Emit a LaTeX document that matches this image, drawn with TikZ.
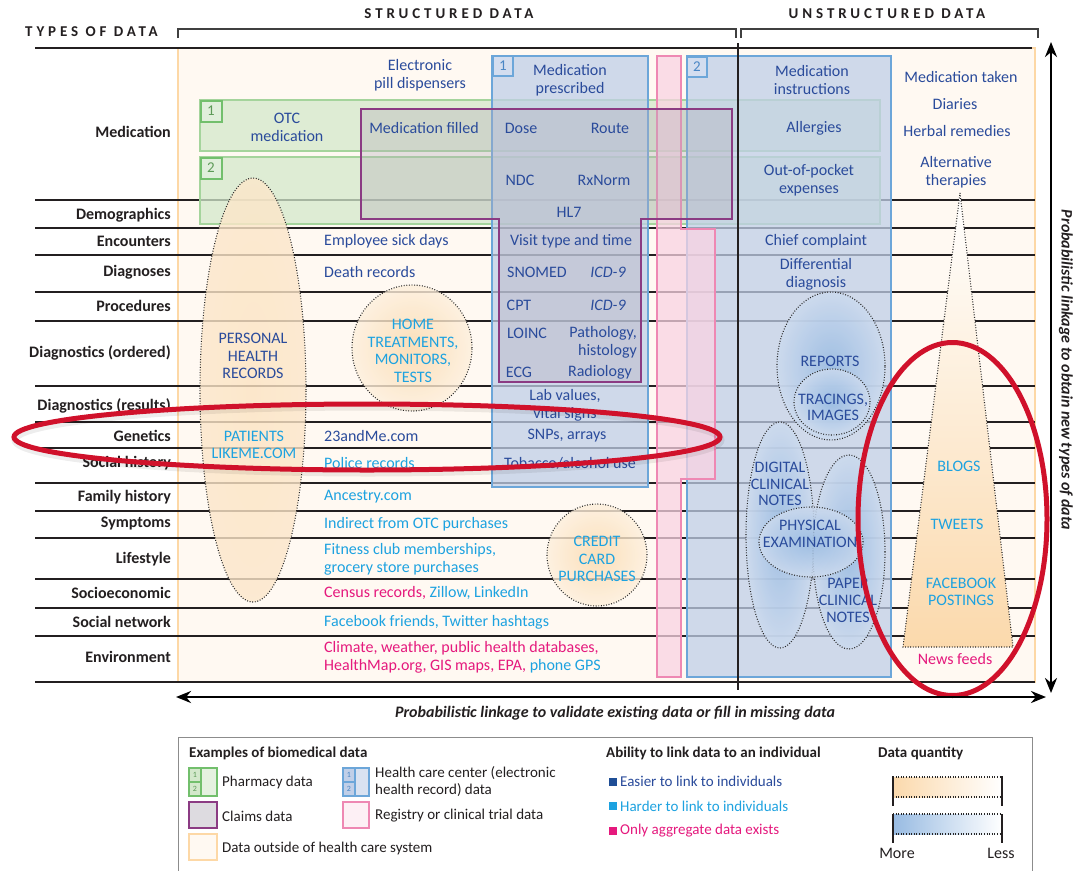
\documentclass[tikz,border=0pt]{standalone}
\usepackage{fontspec}
\setmainfont{Carlito}
\newfontfamily\spacedfont[LetterSpace=26]{Carlito}
\usetikzlibrary{arrows.meta}
\definecolor{labc}{HTML}{231F20}
\definecolor{dblue}{HTML}{2A4B9B}
\definecolor{lblue}{HTML}{1DA2E0}
\definecolor{mag}{HTML}{E5197D}
\definecolor{orfill}{HTML}{FFF9F2}
\definecolor{orline}{HTML}{FDD8A6}
\definecolor{grfill}{HTML}{D3E8CB}
\definecolor{grline}{HTML}{A5D49C}
\definecolor{grdark}{HTML}{72BF6C}
\definecolor{grnum}{HTML}{5C9A57}
\definecolor{blfill}{HTML}{C0CFE8}
\definecolor{blline}{HTML}{6CA6D9}
\definecolor{blnum}{HTML}{4A86C5}
\definecolor{pkfill}{HTML}{F9D3E2}
\definecolor{pkline}{HTML}{EE88B3}
\definecolor{pufill}{HTML}{B4AEBA}
\definecolor{puline}{HTML}{8B3B83}
\definecolor{redc}{HTML}{D0112B}
\definecolor{orin}{HTML}{FBD9AC}
\definecolor{orout}{HTML}{FDEFDC}
\definecolor{orsoft}{HTML}{FCE3C2}
\definecolor{blin}{HTML}{98BBE2}
\definecolor{blout}{HTML}{CCDAEE}
\definecolor{sqdark}{HTML}{1F4E96}
\begin{document}
\begin{tikzpicture}[x=1pt,y=-1pt,
  rowlab/.style={anchor=east,text=labc,font=\bfseries\fontsize{16}{18}\selectfont,inner sep=0pt},
  txt/.style={font=\fontsize{16}{18}\selectfont,inner sep=0pt,align=center},
  dt/.style={txt,text=dblue},
  lt/.style={txt,text=lblue},
  mt/.style={txt,text=mag},
  capd/.style={font=\fontsize{16}{17.5}\selectfont,inner sep=0pt,align=center,text=dblue},
  capl/.style={font=\fontsize{16}{17.5}\selectfont,inner sep=0pt,align=center,text=lblue},
  leg/.style={font=\fontsize{15}{17}\selectfont,inner sep=0pt,anchor=west,text=labc,align=left},
  legh/.style={font=\bfseries\fontsize{15}{17}\selectfont,inner sep=0pt,anchor=west,text=labc},
  hdr/.style={font=\spacedfont\bfseries\fontsize{15}{17}\selectfont,inner sep=0pt,text=labc},
  rowline/.style={draw=labc,line width=1.6pt},
  greenbox/.style={draw=grline,line width=2pt,fill=grfill,fill opacity=0.75},
  bluebox/.style={draw=blline,line width=2pt,fill=blfill,fill opacity=0.75},
  pinkbox/.style={draw=pkline,line width=2pt,fill=pkfill,fill opacity=0.75},
  claimbox/.style={draw=puline,line width=2.5pt,fill=pufill,fill opacity=0.35},
  dotl/.style={draw=black!85,line width=1.1pt,dash pattern=on 0.9pt off 1.7pt},
  orell/.style={dotl,inner color=orin,outer color=orout,fill opacity=0.8},
  blell/.style={dotl,inner color=blin,outer color=blout,fill opacity=0.85},
  redring/.style={draw=redc,line width=5pt},
  gnum/.style={draw=grdark,line width=2pt,fill=grfill!70!white,minimum size=21pt,inner sep=0pt,text=grnum,font=\fontsize{15}{15}\selectfont},
  bnum/.style={draw=blline,line width=2pt,fill=blfill!70!white,minimum size=20pt,inner sep=0pt,text=blnum,font=\fontsize{15}{15}\selectfont},
  tinynum/.style={inner sep=0pt,font=\fontsize{8}{8}\selectfont},
  bigarrow/.style={line width=2.6pt,{Stealth[length=15pt,width=12pt]}-{Stealth[length=15pt,width=12pt]}},
]
\useasboundingbox (0,0) rectangle (1078,870);
\fill[white] (0,0) rectangle (1078,870);

% data outside health care system
\draw[fill=orfill,draw=orline,line width=2.5pt] (178,48) rectangle (1035,682);

% row lines
\foreach \yy in {200,228,255,292,321,386,422,448,483,511,538,579,608,636}
  \draw[rowline] (35,\yy) -- (1035,\yy);
\draw[rowline,line width=2pt] (35,682) -- (1035,682);

% pharmacy boxes
\draw[greenbox] (200,100) rectangle (880,151);
\draw[greenbox] (200,157) rectangle (880,224);
% EHR boxes
\draw[bluebox] (492,56) rectangle (648,487);
\draw[bluebox] (687,56) rectangle (891,677);
% registry
\draw[pinkbox] (657,56) -- (681,56) -- (681,229) -- (715,229) -- (715,479) -- (681,479) -- (681,677) -- (657,677) -- cycle;
% claims
\draw[claimbox] (361,109) -- (732,109) -- (732,219) -- (641,219) -- (641,382) -- (499,382) -- (499,219) -- (361,219) -- cycle;

\node[gnum] (g1) at (211,111) {1};
\node[gnum] (g2) at (211,168) {2};
\node[bnum] (b1) at (503,66) {1};
\node[bnum] (b2) at (697,67) {2};

% orange ellipses
\shadedraw[dotl,inner color=orsoft,outer color=orsoft!70!orout,fill opacity=0.8] (253,390) ellipse [x radius=53pt, y radius=212pt];
\shadedraw[orell] (412,348) ellipse [x radius=60pt, y radius=63pt];
\shadedraw[orell] (597,555) ellipse [x radius=50pt, y radius=51pt];
% blue ellipses
\shadedraw[blell] (831,366) ellipse [x radius=54pt, y radius=74pt];
\shadedraw[blell] (832,402) ellipse [x radius=38pt, y radius=33pt];
\shadedraw[blell] (780,535) ellipse [x radius=34pt, y radius=113pt];
\shadedraw[blell] (849,552) ellipse [x radius=36pt, y radius=97pt];
\shadedraw[blell] (811,542) ellipse [x radius=52pt, y radius=35pt];
% triangle
\shadedraw[dotl,top color=white,bottom color=orin] (960,193) -- (1013,647) -- (903,647) -- cycle;

% vertical separator and top line
\draw[labc,line width=2.5pt] (35,48) -- (1032,48);
\draw[labc,line width=2.5pt] (738,43) -- (738,690);

% headers
\draw[black!75,line width=1.5pt] (178,38) -- (178,29) -- (736,29) -- (736,38);
\draw[black!75,line width=1.5pt] (741,38) -- (741,29) -- (1038,29) -- (1038,38);
\node[hdr,anchor=west] (types) at (25,32) {TYPES OF DATA};
\node[hdr] (struct) at (449,14) {STRUCTURED DATA};
\node[hdr] (unstruct) at (887,14) {UNSTRUCTURED DATA};

% row labels
\node[rowlab] (r1) at (171,132) {Medication};
\node[rowlab] (r2) at (171,215) {Demographics};
\node[rowlab] (r3) at (171,241) {Encounters};
\node[rowlab] (r4) at (171,272) {Diagnoses};
\node[rowlab] (r5) at (171,306) {Procedures};
\node[rowlab] (r6) at (171,353) {Diagnostics (ordered)};
\node[rowlab] (r7) at (171,406) {Diagnostics (results)};
\node[rowlab] (r8) at (171,436) {Genetics};
\node[rowlab] (r9) at (171,463) {Social history};
\node[rowlab] (r10) at (171,497) {Family history};
\node[rowlab] (r11) at (171,524) {Symptoms};
\node[rowlab] (r12) at (171,559) {Lifestyle};
\node[rowlab] (r13) at (171,593) {Socioeconomic};
\node[rowlab] (r14) at (171,622) {Social network};
\node[rowlab] (r15) at (171,657) {Environment};

% structured texts
\node[dt] (epd) at (420,75) {Electronic\\pill dispensers};
\node[dt] (mp) at (570,80) {Medication\\prescribed};
\node[dt] (otc) at (287,127) {OTC\\medication};
\node[dt] (mf) at (424,128) {Medication filled};
\node[dt] (dose) at (521,128) {Dose};
\node[dt] (route) at (610,128) {Route};
\node[dt] (ndc) at (520,180) {NDC};
\node[dt] (rxn) at (604,180) {RxNorm};
\node[dt] (hl7) at (569,212) {HL7};
\node[dt] (visit) at (571,241) {Visit type and time};
\node[dt] (snomed) at (537,272) {SNOMED};
\node[dt] (icd1) at (608,272) {\itshape ICD-9};
\node[dt] (cpt) at (519,305) {CPT};
\node[dt] (icd2) at (608,305) {\itshape ICD-9};
\node[dt] (loinc) at (527,333) {LOINC};
\node[dt,align=right,anchor=east] (patho) at (637,342) {Pathology,\\histology};
\node[dt] (ecg) at (519,372) {ECG};
\node[dt] (radio) at (600,372) {Radiology};
\node[dt] (lab) at (565,405) {Lab values,\\vital signs};
\node[dt] (snp) at (567,436) {SNPs, arrays};
\node[dt] (tob) at (570,463) {Tobacco/alcohol use};

\node[dt,anchor=west] (sick) at (324,241) {Employee sick days};
\node[dt,anchor=west] (death) at (324,272) {Death records};
\node[dt,anchor=west] (andme) at (324,436) {23andMe.com};
\node[lt,anchor=west] (police) at (324,463) {Police records};
\node[lt,anchor=west] (ancestry) at (324,497) {Ancestry.com};
\node[lt,anchor=west] (indirect) at (324,524) {Indirect from OTC purchases};
\node[lt,anchor=west,align=left] (fitness) at (324,559) {Fitness club memberships,\\grocery store purchases};
\node[lt,anchor=west] (census) at (324,593) {\textcolor{mag}{Census records,} Zillow, LinkedIn};
\node[lt,anchor=west] (fb) at (324,622) {Facebook friends, Twitter hashtags};
\node[lt,anchor=west,align=left] (climate) at (324,657) {\textcolor{mag}{Climate, weather, public health databases,}\\\textcolor{mag}{HealthMap.org, GIS maps, EPA,} phone GPS};

\node[capd] (phr) at (253,356) {PERSONAL\\HEALTH\\RECORDS};
\node[capl] (plm) at (254,445) {PATIENTS\\LIKEME.COM};
\node[capl] (home) at (413,351) {HOME\\TREATMENTS,\\MONITORS,\\TESTS};
\node[capl] (credit) at (597,559) {CREDIT\\CARD\\PURCHASES};

% unstructured texts
\node[dt] (mi) at (812,80) {Medication\\instructions};
\node[dt] (allerg) at (814,128) {Allergies};
\node[dt] (oop) at (809,180) {Out-of-pocket\\expenses};
\node[dt] (chief) at (816,241) {Chief complaint};
\node[dt] (diff) at (816,274) {Differential\\diagnosis};
\node[capd] (reports) at (830,361) {REPORTS};
\node[capd,font=\fontsize{16}{16}\selectfont] (trac) at (833,407) {TRACINGS,\\IMAGES};
\node[capd,font=\fontsize{16}{16.5}\selectfont] (dcn) at (780,484) {DIGITAL\\CLINICAL\\NOTES};
\node[capd,font=\fontsize{16}{17}\selectfont] (phys) at (810,534) {PHYSICAL\\EXAMINATION};
\node[capd,font=\fontsize{16}{17}\selectfont] (paper) at (848,600) {PAPER\\CLINICAL\\NOTES};

\node[dt] (mtaken) at (961,77) {Medication taken};
\node[dt] (diaries) at (955,104) {Diaries};
\node[dt] (herbal) at (957,131) {Herbal remedies};
\node[dt] (alt) at (956,172) {Alternative\\therapies};
\node[capl] (blogs) at (959,466) {BLOGS};
\node[capl] (tweets) at (957,524) {TWEETS};
\node[capl] (fbp) at (961,592) {FACEBOOK\\POSTINGS};
\node[mt] (news) at (955,659) {News feeds};

% red rings
\draw[black,opacity=0.07,line width=7pt] (368,440) ellipse [x radius=353pt, y radius=33pt];
\draw[redring] (367,437) ellipse [x radius=353pt, y radius=33pt];
\draw[redring] (952.5,519) ellipse [x radius=94.5pt, y radius=176.5pt];

% arrows
\coordinate (vt) at (1051,42);
\coordinate (vb) at (1051,693);
\coordinate (hl) at (176,697);
\coordinate (hr) at (1046,697);
\draw[bigarrow] (vt) -- (vb);
\draw[bigarrow] (hl) -- (hr);
\node[font=\bfseries\itshape\fontsize{16}{18}\selectfont,rotate=-90,text=labc,inner sep=0pt] (vtext) at (1066,370) {Probabilistic linkage to obtain new types of data};
\node[font=\bfseries\itshape\fontsize{16}{18}\selectfont,text=labc,inner sep=0pt] (htext) at (615,713) {Probabilistic linkage to validate existing data or fill in missing data};

% legend
\draw[black!45,line width=1pt] (178,872) -- (178,737) -- (1032,737) -- (1032,872);
\node[legh] (lh1) at (189,753) {Examples of biomedical data};
\draw[draw=grdark,line width=2pt,fill=grfill!60!white] (189,768) rectangle (217,796);
\draw[draw=grdark,line width=1.2pt,fill=grfill] (189,768) rectangle (201,782);
\draw[draw=grdark,line width=1.2pt,fill=grfill] (189,782) rectangle (201,796);
\node[tinynum,text=grnum] (gi1) at (195,775) {1};
\node[tinynum,text=grnum] (gi2) at (195,789) {2};
\node[leg] (lpharm) at (222,782) {Pharmacy data};
\draw[draw=blline,line width=2pt,fill=blfill!60!white] (343,768) rectangle (369,796);
\draw[draw=blline,line width=1.2pt,fill=blfill] (343,768) rectangle (355,782);
\draw[draw=blline,line width=1.2pt,fill=blfill] (343,782) rectangle (355,796);
\node[tinynum,text=blnum] (bi1) at (349,775) {1};
\node[tinynum,text=blnum] (bi2) at (349,789) {2};
\node[leg] (lehr) at (375,782) {Health care center (electronic\\health record) data};
\draw[draw=puline,line width=2.5pt,fill=pufill!45!white] (189,802) rectangle (217,828);
\node[leg] (lclaims) at (222,816) {Claims data};
\draw[draw=pkline,line width=2pt,fill=pkfill!35!white] (343,802) rectangle (369,828);
\node[leg] (lreg) at (375,816) {Registry or clinical trial data};
\draw[draw=orline,line width=2pt,fill=orfill] (189,834) rectangle (217,860);
\node[leg] (lout) at (222,848) {Data outside of health care system};

\node[legh] (lh2) at (606,753) {Ability to link data to an individual};
\fill[sqdark] (609,778) rectangle (617,786);
\node[leg,text=dblue] (leasy) at (620,781) {Easier to link to individuals};
\fill[lblue] (609,802) rectangle (617,810);
\node[leg,text=lblue] (lhard) at (620,806) {Harder to link to individuals};
\fill[mag] (609,827) rectangle (617,835);
\node[leg,text=mag] (lagg) at (620,831) {Only aggregate data exists};

\node[legh] (lh3) at (878,753) {Data quantity};
\shade[left color=orin,middle color=orin!60!white,right color=white] (893,777) rectangle (1002,797);
\draw[dotl] (893,777) -- (1002,777);
\draw[dotl] (893,797) -- (1002,797);
\draw[labc,line width=2.2pt] (893,776) -- (893,806);
\draw[labc,line width=2.2pt] (1002,776) -- (1002,806);
\shade[left color=blin,middle color=blin!75!white,right color=white] (893,814) rectangle (1002,834);
\draw[dotl] (893,814) -- (1002,814);
\draw[dotl] (893,834) -- (1002,834);
\draw[labc,line width=2.2pt] (893,814) -- (893,843);
\draw[labc,line width=2.2pt] (1002,814) -- (1002,843);
\node[txt,text=labc] (lmore) at (897,853) {More};
\node[txt,text=labc] (lless) at (1001,853) {Less};
\end{tikzpicture}
\end{document}
